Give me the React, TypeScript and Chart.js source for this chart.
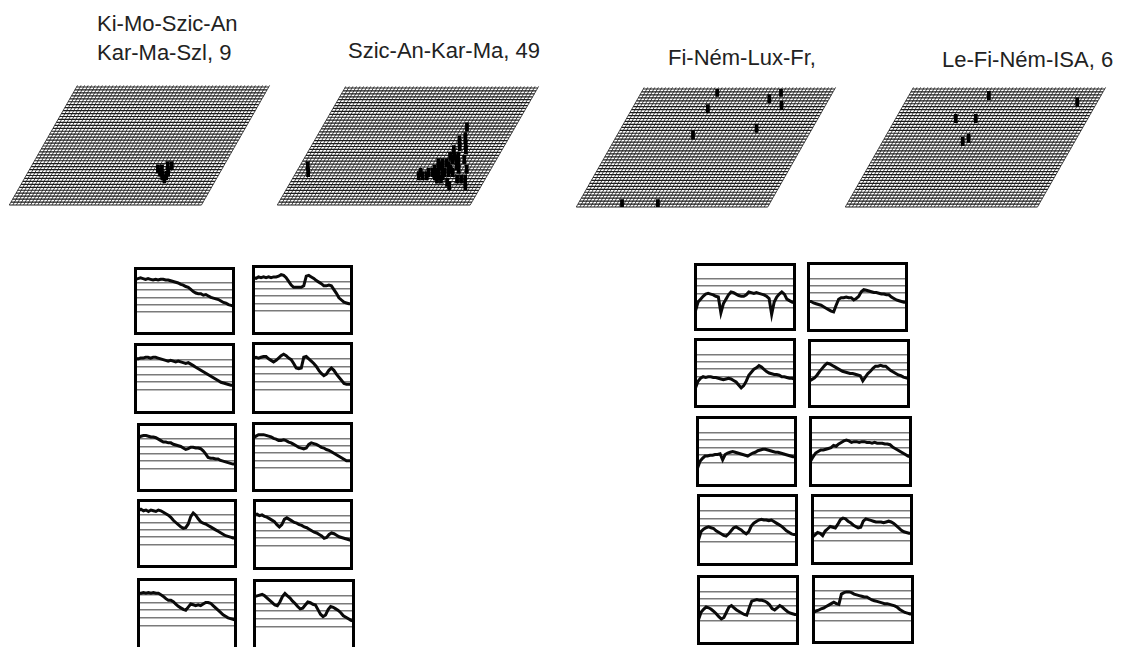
import React, { useEffect, useRef } from "react";
import { Chart, registerables } from "chart.js";
Chart.register(...registerables);

// ---------- top grid panels ----------
const NC = 48; // mark columns of the grid
const NR = 36; // mark rows of the grid
const SKEW = 16.8; // horizontal shift of top row, in column units
const GRID_COLS = 54; // drawn grid lines (visual density)
const GRID_ROWS = 40;

const title1 = ["Ki-Mo-Szic-An", "Kar-Ma-Szl, 9"];
const title2 = ["Szic-An-Kar-Ma, 49"];
const title3 = ["Fi-Ném-Lux-Fr,"];
const title4 = ["Le-Fi-Ném-ISA, 6"];

// marks: [column, row] cells of the grid
const marks1 = [[32, 11], [33, 11], [34, 12], [35, 12], [33, 10], [34, 9], [35, 10], [35, 8], [35, 9]];
const marks2 = [
  [2, 12], [3, 10], [36, 24], [37, 21], [38, 19], [39, 17], [40, 14], [42, 11], [43, 8], [36, 20],
  [37, 18], [38, 15], [39, 13], [40, 11], [37, 15], [37, 14], [37, 12], [36, 13], [36, 11], [35, 11],
  [35, 10], [34, 11], [34, 10], [33, 9], [32, 9], [31, 9], [36, 9], [37, 9], [38, 10], [39, 10],
  [39, 7], [40, 6], [41, 8], [36, 8], [35, 13], [38, 11], [39, 12], [35, 9], [33, 10], [37, 10],
  [35, 12], [38, 14], [42, 8], [36, 17], [44, 6], [31, 10], [34, 13], [36, 15], [37, 8],
];
const marks3 = [[19, 35], [35, 35], [33, 33], [37, 31], [19, 30], [34, 24], [19, 22], [11, 1], [20, 1]];
const marks4 = [[20, 34], [43, 32], [15, 27], [20, 27], [20, 20], [21, 21]];

// ---------- small line panels (value scale 0..9) ----------
const leftA1 = [7.5,7.6,7.7,7.6,7.5,7.6,7.5,7.4,7.5,7.4,7.5,7.5,7.4,7.4,7.3,7.2,7.1,7.0,6.8,6.7,6.5,6.4,6.1,5.8,5.6,5.5,5.5,5.3,5.4,5.2,5.0,4.9,4.8,4.7,4.5,4.3,4.2,4.0,3.9,3.8];
const leftB1 = [7.5,7.4,7.6,7.5,7.6,7.5,7.6,7.5,7.6,7.6,7.7,7.9,7.8,7.5,7.0,6.5,6.2,6.2,6.2,6.2,6.4,7.7,7.8,7.6,7.4,7.1,6.9,6.7,6.4,6.4,6.5,6.4,5.9,5.4,4.8,4.5,4.2,4.1,4.0,4.0];
const leftA2 = [7.2,7.1,7.2,7.2,7.3,7.3,7.2,7.3,7.3,7.2,7.1,7.0,6.9,6.8,6.9,6.8,6.7,6.8,6.7,6.6,6.5,6.6,6.4,6.2,6.0,5.8,5.6,5.4,5.2,5.0,4.8,4.6,4.4,4.2,4.0,3.9,3.8,3.7,3.6,3.6];
const leftB2 = [7.1,7.2,7.1,7.2,7.3,7.3,7.0,6.8,6.6,6.8,7.1,7.4,7.6,7.4,7.1,6.9,6.4,5.8,5.7,5.8,7.2,7.3,7.0,6.7,6.4,6.0,5.5,5.1,4.8,5.0,5.5,5.8,5.5,5.0,4.6,4.2,3.8,3.7,3.7,3.7];
const leftA3 = [7.2,7.4,7.5,7.5,7.4,7.3,7.3,7.2,7.0,6.8,6.6,6.6,6.5,6.5,6.3,6.2,6.1,6.0,5.8,5.6,5.7,5.9,5.9,5.8,5.8,5.7,5.4,5.0,4.5,4.4,4.4,4.3,4.3,4.1,4.0,3.9,3.8,3.7,3.6,3.6];
const leftB3 = [7.1,7.3,7.5,7.5,7.5,7.4,7.3,7.2,7.0,6.9,6.7,6.7,6.8,6.7,6.5,6.4,6.2,6.0,5.8,5.7,5.6,5.7,6.2,6.4,6.3,6.2,6.0,5.8,5.7,5.5,5.4,5.2,5.0,4.8,4.6,4.4,4.2,4.0,4.0,4.0];
const leftA4 = [7.6,7.8,7.6,7.7,7.5,7.7,7.6,7.5,7.7,7.6,7.4,7.2,7.0,6.7,6.3,6.0,5.7,5.4,5.2,5.3,5.8,6.8,7.3,7.0,6.5,6.1,5.9,5.8,5.6,5.4,5.2,5.0,4.8,4.6,4.4,4.2,4.1,4.0,3.9,3.9];
const leftB4 = [7.1,7.2,7.0,7.1,6.9,6.8,6.6,6.4,6.2,5.8,5.5,5.8,6.5,6.7,6.5,6.3,6.1,6.0,5.8,5.7,5.5,5.4,5.2,5.0,4.8,4.7,4.5,4.3,4.0,4.1,4.5,4.7,4.6,4.4,4.2,4.1,4.0,3.9,3.8,3.7];
const leftA5 = [7.2,7.2,7.3,7.2,7.3,7.2,7.3,7.2,7.2,7.0,6.8,6.5,6.3,6.3,6.1,5.8,5.5,5.3,5.1,5.0,5.4,5.8,5.7,5.6,5.7,5.6,5.8,6.0,6.0,5.9,5.6,5.3,5.0,4.7,4.4,4.2,4.0,3.9,3.8,3.7];
const leftB5 = [6.9,7.0,7.1,7.2,7.0,6.7,6.4,6.1,5.8,5.7,6.2,6.9,7.3,7.0,6.7,6.3,6.0,5.6,5.3,5.4,5.8,6.2,6.1,5.9,5.8,5.2,4.6,4.3,4.5,5.2,5.6,5.5,5.3,5.1,4.8,4.4,4.2,4.0,3.8,3.7];

const rightA1 = [2.6,3.8,4.2,4.6,4.9,5.0,4.9,4.8,4.6,4.5,2.3,3.6,4.2,4.8,5.2,5.1,4.9,4.7,4.6,4.6,4.8,5.2,5.1,5.0,5.1,5.0,4.9,4.8,4.6,4.3,2.1,3.8,4.5,4.9,5.2,4.9,4.2,4.0,3.8,3.7];
const rightB1 = [3.9,3.9,3.7,3.6,3.5,3.4,3.2,3.0,2.8,2.6,2.5,3.4,4.2,4.4,4.4,4.5,4.4,4.4,4.1,4.3,4.6,5.2,5.5,5.4,5.3,5.2,5.1,5.1,5.0,4.9,4.9,4.8,4.8,4.5,4.3,4.1,4.0,3.9,3.8,3.8];
const rightA2 = [2.5,3.4,3.8,4.0,3.9,4.0,4.0,3.9,3.9,3.8,3.7,3.6,3.7,3.8,3.7,3.5,3.3,2.9,2.5,2.8,3.4,4.2,4.6,5.0,5.2,5.5,5.3,5.0,4.7,4.5,4.4,4.3,4.3,4.2,4.0,4.0,3.9,3.8,3.8,3.7];
const rightB2 = [3.5,3.7,3.9,4.3,4.8,5.2,5.6,5.9,5.8,5.6,5.4,5.2,5.0,4.8,4.7,4.6,4.5,4.5,4.4,4.3,4.2,3.5,4.0,4.5,4.8,5.2,5.5,5.5,5.6,5.5,5.5,5.2,4.9,4.7,4.5,4.3,4.2,4.0,3.9,3.8];
const rightA3 = [2.3,3.2,3.6,3.9,3.9,4.0,4.0,4.1,4.1,4.2,3.4,4.1,4.3,4.4,4.5,4.4,4.3,4.2,4.1,4.0,3.9,4.1,4.3,4.4,4.6,4.7,4.8,4.8,4.7,4.6,4.5,4.4,4.4,4.3,4.2,4.1,4.0,3.9,3.8,3.8];
const rightB3 = [3.2,3.8,4.3,4.5,4.7,4.7,4.8,4.9,5.0,5.3,5.2,5.5,5.7,5.9,6.0,5.9,5.7,5.8,5.8,5.7,5.8,5.8,5.7,5.7,5.6,5.7,5.6,5.6,5.6,5.5,5.5,5.4,5.1,4.9,4.7,4.5,4.3,4.1,3.9,3.8];
const rightA4 = [3.2,4.3,4.6,4.8,4.9,4.8,4.7,4.4,4.2,4.0,3.8,3.7,4.0,4.4,4.8,4.9,4.7,4.5,4.2,4.0,4.3,5.0,5.4,5.6,5.8,5.9,5.8,5.8,5.7,5.8,5.6,5.4,5.2,5.0,4.7,4.4,4.2,4.0,3.9,3.9];
const rightB4 = [3.5,3.8,4.1,4.0,3.7,4.3,4.6,4.9,4.8,4.7,5.2,5.8,6.0,5.9,5.6,5.4,5.1,4.9,4.7,4.8,5.6,5.9,5.8,5.7,5.6,5.5,5.5,5.5,5.4,5.5,5.6,5.5,5.3,5.0,4.7,4.4,4.2,4.1,4.0,4.0];
const rightA5 = [3.2,4.2,4.6,4.9,4.8,4.6,4.3,4.0,3.6,3.3,3.5,4.2,4.9,5.1,4.8,4.5,4.3,4.1,3.9,3.8,4.8,5.7,5.8,5.9,5.8,5.8,5.7,5.5,5.2,4.7,4.5,4.8,5.1,4.9,4.6,4.3,4.1,4.0,3.9,3.9];
const rightB5 = [4.1,4.3,4.4,4.6,4.7,4.9,5.1,5.3,5.5,5.3,5.2,6.6,6.8,6.9,6.9,6.8,6.6,6.5,6.4,6.3,6.2,6.2,6.0,5.8,5.7,5.6,5.5,5.4,5.3,5.3,5.2,5.1,5.0,4.8,4.5,4.3,4.1,4.0,3.9,3.9];

const Y_MIN = 0;
const Y_MAX = 9;
const GRID_VALUES = [3, 4, 5, 6, 7];

// ---------- layout (page pixels) ----------
const topLayout = [
  { x0: 9, x1: 269, top: 87, bottom: 205 },
  { x0: 277, x1: 538, top: 88, bottom: 205 },
  { x0: 576, x1: 835, top: 89, bottom: 207 },
  { x0: 845, x1: 1105, top: 89, bottom: 207 },
];
const titleLayout = [
  { left: 97, top: 13.4 },
  { left: 348, top: 40.4 },
  { left: 668, top: 47.4 },
  { left: 942, top: 49.4 },
];
const miniLayout = [
  [134, 267, 235, 335], [252, 265, 353, 335],
  [134, 343, 235, 414], [252, 342, 353, 414],
  [137, 423, 237, 492], [252, 422, 353, 492],
  [137, 499, 237, 568], [253, 499, 353, 570],
  [137, 578, 237, 650], [253, 579, 355, 651],
  [694, 263, 796, 331], [807, 262, 908, 332],
  [694, 338, 796, 408], [808, 339, 910, 408],
  [696, 416, 797, 487], [809, 416, 912, 487],
  [697, 494, 798, 566], [811, 494, 913, 565],
  [697, 575, 799, 645], [812, 575, 914, 644],
];

const miniSeries = [
  leftA1, leftB1, leftA2, leftB2, leftA3, leftB3, leftA4, leftB4, leftA5, leftB5,
  rightA1, rightB1, rightA2, rightB2, rightA3, rightB3, rightA4, rightB4, rightA5, rightB5,
];
const titles = [title1, title2, title3, title4];
const allMarks = [marks1, marks2, marks3, marks4];

const FONT = '"Liberation Sans", Arial, Helvetica, sans-serif';

const skewGridPlugin = {
  id: "skewGrid",
  beforeDatasetsDraw(chart: any) {
    const { ctx } = chart;
    const x = chart.scales.x;
    const y = chart.scales.y;
    ctx.save();
    ctx.lineWidth = 1;
    ctx.strokeStyle = "#4a4a4a";
    const ext = 0.5;
    for (let k = 0; k <= GRID_COLS; k++) {
      const c = (k * NC) / GRID_COLS;
      ctx.beginPath();
      ctx.moveTo(x.getPixelForValue(c), y.getPixelForValue(0));
      ctx.lineTo(x.getPixelForValue(c + (SKEW * (NR + ext)) / NR), y.getPixelForValue(NR + ext));
      ctx.stroke();
    }
    ctx.strokeStyle = "#1c1c1c";
    ctx.lineWidth = 1.2;
    for (let k = 0; k <= GRID_ROWS; k++) {
      const r = (k * NR) / GRID_ROWS;
      const sx = (SKEW * r) / NR;
      ctx.beginPath();
      ctx.moveTo(x.getPixelForValue(sx), y.getPixelForValue(r));
      ctx.lineTo(x.getPixelForValue(sx + NC), y.getPixelForValue(r));
      ctx.stroke();
    }
    ctx.restore();
  },
};

function GridPanel({ layout, marks }: { layout: any; marks: number[][] }) {
  const ref = useRef<HTMLCanvasElement>(null);
  const padX = 8;
  const padY = 12;
  const w = layout.x1 - layout.x0 + padX * 2;
  const h = layout.bottom - layout.top + padY * 2;
  useEffect(() => {
    const chart = new Chart(ref.current as HTMLCanvasElement, {
      type: "scatter",
      data: {
        datasets: [
          {
            data: marks.map(([c, r]) => ({ x: c + (SKEW * r) / NR, y: r })),
            pointStyle: "line",
            pointRadius: 4.5,
            pointRotation: 90,
            pointBorderWidth: 3.8,
            pointBorderColor: "#000",
            pointBackgroundColor: "#000",
          } as any,
        ],
      },
      options: {
        animation: false,
        responsive: false,
        events: [],
        layout: { padding: { left: padX, right: padX, top: padY, bottom: padY } },
        plugins: { legend: { display: false }, tooltip: { enabled: false } },
        scales: {
          x: { type: "linear", display: false, min: 0, max: NC + SKEW },
          y: { type: "linear", display: false, min: 0, max: NR },
        },
      },
      plugins: [skewGridPlugin],
    });
    return () => chart.destroy();
  }, []);
  return (
    <canvas
      ref={ref}
      width={w}
      height={h}
      style={{ position: "absolute", left: layout.x0 - padX, top: layout.top - padY, width: w, height: h }}
    />
  );
}

const framePlugin = {
  id: "frame",
  afterDraw(chart: any) {
    const { ctx, chartArea } = chart;
    ctx.save();
    ctx.strokeStyle = "#000";
    ctx.lineWidth = 3;
    ctx.strokeRect(chartArea.left, chartArea.top, chartArea.right - chartArea.left, chartArea.bottom - chartArea.top);
    ctx.restore();
  },
};

function MiniPanel({ box, values }: { box: number[]; values: number[] }) {
  const ref = useRef<HTMLCanvasElement>(null);
  const [l, t, r, b] = box;
  const w = r - l;
  const h = b - t;
  useEffect(() => {
    const chart = new Chart(ref.current as HTMLCanvasElement, {
      type: "line",
      data: {
        labels: values.map((_, i) => String(i)),
        datasets: [
          {
            data: values,
            borderColor: "#0a0a0a",
            borderWidth: 3,
            pointRadius: 0,
            tension: 0,
            fill: false,
          },
        ],
      },
      options: {
        animation: false,
        responsive: false,
        events: [],
        layout: { padding: 1.5 },
        plugins: { legend: { display: false }, tooltip: { enabled: false } },
        scales: {
          x: { display: false },
          y: {
            min: Y_MIN,
            max: Y_MAX,
            afterBuildTicks: (axis: any) => {
              axis.ticks = GRID_VALUES.map((v) => ({ value: v }));
            },
            afterFit: (axis: any) => {
              axis.width = 0;
            },
            ticks: { display: false },
            grid: { drawTicks: false, color: "#7a7a7a", lineWidth: 1.6 },
            border: { display: false },
          },
        },
      },
      plugins: [framePlugin],
    });
    return () => chart.destroy();
  }, []);
  return (
    <canvas
      ref={ref}
      width={w}
      height={h}
      style={{ position: "absolute", left: l, top: t, width: w, height: h }}
    />
  );
}

export default function App() {
  return (
    <div
      style={{
        position: "absolute",
        left: 0,
        top: 0,
        width: 1130,
        height: 647,
        overflow: "hidden",
        background: "#fff",
      }}
    >
      {titles.map((lines, i) => (
        <div
          key={"t" + i}
          style={{
            position: "absolute",
            left: titleLayout[i].left,
            top: titleLayout[i].top,
            fontFamily: FONT,
            fontSize: 22,
            color: "#222",
            whiteSpace: "nowrap",
          }}
        >
          {lines.map((s, j) => (
            <div key={j} style={{ height: 29, lineHeight: "22px" }}>
              {s}
            </div>
          ))}
        </div>
      ))}
      {topLayout.map((lay, i) => (
        <GridPanel key={"g" + i} layout={lay} marks={allMarks[i]} />
      ))}
      {miniLayout.map((box, i) => (
        <MiniPanel key={"m" + i} box={box} values={miniSeries[i]} />
      ))}
    </div>
  );
}
